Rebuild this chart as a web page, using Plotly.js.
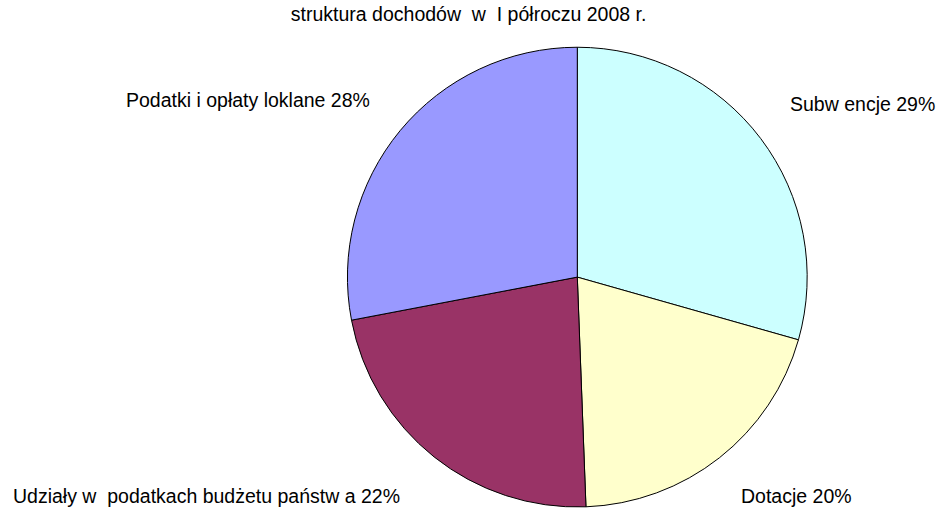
<!DOCTYPE html>
<html><head><meta charset="utf-8">
<script src="https://cdn.plot.ly/plotly-3.0.1.min.js"></script>
<style>html,body{margin:0;padding:0;background:#fff}#chart{width:941px;height:508px}</style>
</head><body><div id="chart"></div>
<script>
const categories = ["Subwencje", "Dotacje", "Udziały w podatkach budżetu państwa", "Podatki i opłaty loklane"];
const values = [29.4, 20.0, 22.6, 28.0];
const labelTexts = ["Subw encje 29%", "Dotacje 20%", "Udziały w  podatkach budżetu państw a 22%", "Podatki i opłaty loklane 28%"];
const colors = ["#CCFFFF", "#FFFFCC", "#993366", "#9999FF"];
const titleText = "struktura dochodów  w  I półroczu 2008 r.";

const labelPos = [
  {x: 0.9955, y: 0.795, xanchor: "right"},
  {x: 0.908, y: 0.024, xanchor: "right"},
  {x: 0.012, y: 0.024, xanchor: "left"},
  {x: 0.132, y: 0.803, xanchor: "left"}
];

const FONT = "Liberation Sans, Arial, sans-serif";
const FS = 19.5;

const trace = {
  type: "pie",
  labels: categories,
  values: values,
  sort: false,
  direction: "clockwise",
  rotation: 0,
  marker: {colors: colors, line: {color: "#000", width: 1}},
  textinfo: "none",
  hoverinfo: "label+percent",
  domain: {x: [0.369, 0.858], y: [0.002, 0.907]},
  showlegend: false
};

const annotations = labelTexts.map((t, i) => ({
  text: t, xref: "paper", yref: "paper",
  x: labelPos[i].x, y: labelPos[i].y, xanchor: labelPos[i].xanchor, yanchor: "middle",
  showarrow: false, font: {family: FONT, size: FS, color: "#000"}
}));

const layout = {
  width: 941, height: 508,
  margin: {l: 0, r: 0, t: 0, b: 0},
  paper_bgcolor: "#fff",
  title: {text: titleText, x: 0.498, xanchor: "center", y: 0.972, yanchor: "middle",
          font: {family: FONT, size: FS, color: "#000"}},
  annotations: annotations
};

Plotly.newPlot("chart", [trace], layout, {displayModeBar: false, staticPlot: true});
</script></body></html>
